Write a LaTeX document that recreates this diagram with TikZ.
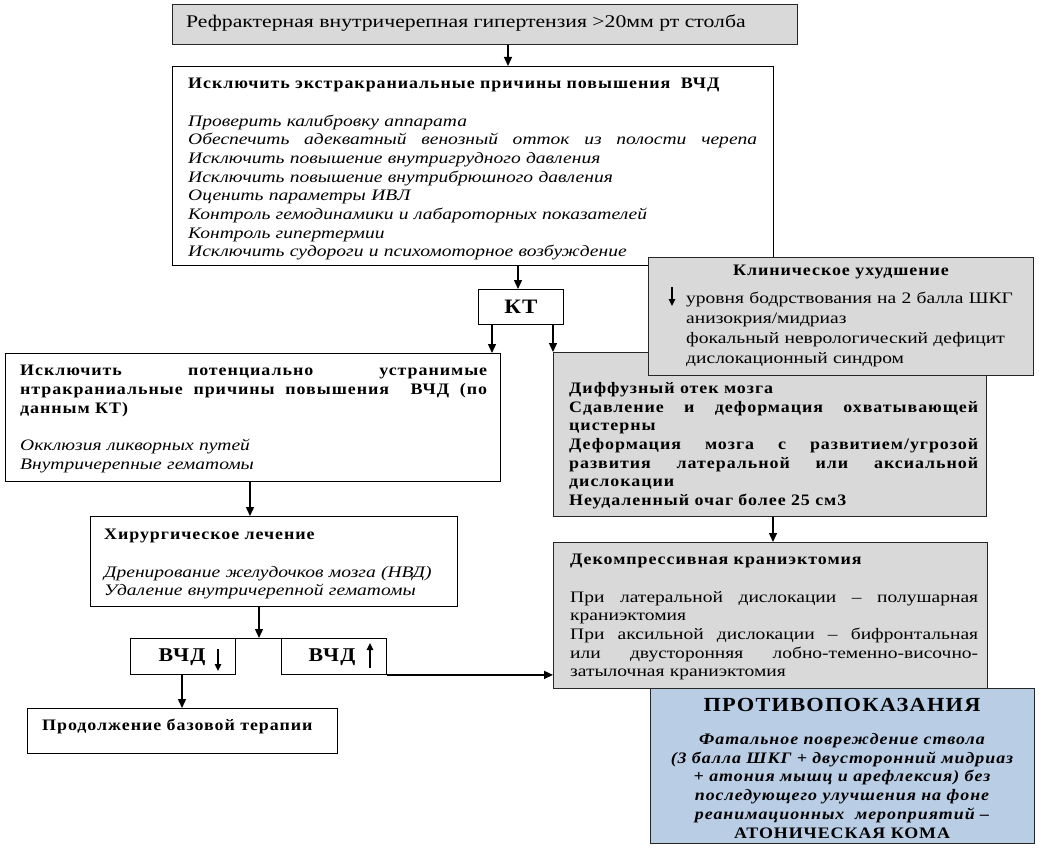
\documentclass[tikz,border=0pt]{standalone}
\usepackage{fontspec}
\setmainfont{Liberation Serif}[FakeStretch=1.22]
\newfontfamily\bsp[FakeStretch=1.12,LetterSpace=6]{Liberation Serif}
\usetikzlibrary{arrows.meta,calc}
\definecolor{boxgray}{HTML}{D9D9D9}
\definecolor{boxblue}{HTML}{B9CDE5}
\newcommand\fs{\fontsize{16}{18.7}\selectfont}
\newcommand\jl[2]{\leavevmode\hbox to #1{\spaceskip=0pt\xspaceskip=0pt\relax #2}\\}
\tikzset{
  box/.style={draw=black, line width=0.9pt, anchor=north west, inner sep=0pt, fill=white},
  gbox/.style={box, draw=black!85, fill=boxgray},
  bbox/.style={box, draw=black!85, fill=boxblue},
  txt/.style={anchor=north west, inner sep=0pt, align=left, font=\fs},
  conn/.style={line width=1.4pt, -{Triangle[length=9pt,width=8pt]}},
  glyph/.style={line width=1.3pt, -{Triangle[length=7pt,width=6.5pt]}},
}
\begin{document}
\begin{tikzpicture}[x=1pt,y=-1pt]
\useasboundingbox (0,0) rectangle (1039,848);
\fill[white] (0,0) rectangle (1039,848);

% top box
\node[gbox, minimum width=625pt, minimum height=40pt] (b1) at (172,4) {};
\node[txt, anchor=west, font=\fontsize{17.8}{20}\selectfont] (b1t) at (186,23)
  {Рефрактерная внутричерепная гипертензия >20мм рт столба};

% exclude extracranial
\node[box, minimum width=601pt, minimum height=199pt] (b2) at (172,66) {};
\node[txt, text width=569pt] (b2t) at (188,78) {%
  {\bsp\bfseries Исключить экстракраниальные причины повышения\ \ ВЧД}\\
  \mbox{}\\
  \itshape Проверить калибровку аппарата\\
  \jl{569pt}{Обеспечить адекватный венозный отток из полости черепа}
  Исключить повышение внутригрудного давления\\
  Исключить повышение внутрибрюшного давления\\
  Оценить параметры ИВЛ\\
  Контроль гемодинамики и лабароторных показателей\\
  Контроль гипертермии\\
  Исключить судороги и психомоторное возбуждение};

% KT
\node[box, minimum width=85pt, minimum height=35pt,
      font=\bsp\bfseries\fontsize{20.5}{22}\selectfont] (kt) at (478,289) {КТ};

% left box
\node[box, minimum width=495pt, minimum height=128pt] (lb) at (5,353) {};
\node[txt, text width=467pt] (lbt) at (20,365) {%
  \bsp\bfseries
  \jl{467pt}{Исключить потенциально устранимые}
  \jl{467pt}{нтракраниальные причины повышения\ \ ВЧД (по}
  данным КТ)\\
  \mbox{}\\
  \normalfont\itshape Окклюзия ликворных путей\\
  Внутричерепные гематомы};

% diffuse
\node[gbox, minimum width=433pt, minimum height=164pt] (db) at (553,352) {};
\node[txt, text width=409pt] (dbt) at (569,382) {%
  \bsp\bfseries
  Диффузный отек мозга\\
  \jl{409pt}{Сдавление и деформация охватывающей}
  цистерны\\
  \jl{409pt}{Деформация мозга с развитием/угрозой}
  \jl{409pt}{развития латеральной или аксиальной}
  дислокации\\
  Неудаленный очаг более 25 см3};

% clinical worsening
\node[gbox, minimum width=385pt, minimum height=118pt] (cl) at (648,257) {};
\node[txt, anchor=center, font=\bsp\bfseries\fs] (clt) at (841,272) {Клиническое ухудшение};
\node[txt, text width=340pt, font=\fontsize{16}{20}\selectfont] (cll) at (686,292) {%
  уровня бодрствования на 2 балла ШКГ\\
  анизокрия/мидриаз\\
  фокальный неврологический дефицит\\
  дислокационный синдром};
\draw[glyph] (672,287) -- (672,306);

% surgical
\node[box, minimum width=367pt, minimum height=90pt] (sb) at (90,516) {};
\node[txt, text width=345pt] (sbt) at (104,529) {%
  {\bsp\bfseries Хирургическое лечение}\\
  \mbox{}\\
  \itshape Дренирование желудочков мозга (НВД)\\
  Удаление внутричерепной гематомы};

% decompressive
\node[gbox, minimum width=434pt, minimum height=146pt] (dc) at (553,542) {};
\node[txt, text width=408pt] (dct) at (570,554) {%
  {\bsp\bfseries Декомпрессивная краниэктомия}\\
  \mbox{}\\
  \jl{408pt}{При латеральной дислокации – полушарная}
  краниэктомия\\
  \jl{408pt}{При аксильной дислокации – бифронтальная}
  \jl{408pt}{или двусторонняя лобно-теменно-височно-}
  затылочная краниэктомия};

% ICP boxes
\node[box, minimum width=105pt, minimum height=36pt] (vd) at (130,638) {};
\node[txt, anchor=center, font=\bsp\bfseries\fontsize{19.5}{20}\selectfont] (vdt) at (182,657) {ВЧД};
\draw[glyph] (218,649) -- (218,671);
\node[box, minimum width=105pt, minimum height=36pt] (vu) at (281,638) {};
\node[txt, anchor=center, font=\bsp\bfseries\fontsize{19.5}{20}\selectfont] (vut) at (332,657) {ВЧД};
\draw[glyph] (370,668) -- (370,643);

% continue base therapy
\node[box, minimum width=310pt, minimum height=45pt] (pb) at (27,708) {};
\node[txt, anchor=west, font=\bsp\bfseries\fs] (pbt) at (42,726) {Продолжение базовой терапии};

% contraindications
\node[bbox, minimum width=384pt, minimum height=155pt] (cb) at (650,688) {};
\node[txt, anchor=center, font=\bsp\bfseries\fontsize{20}{22}\selectfont] (cbt) at (842,705) {ПРОТИВОПОКАЗАНИЯ};
\node[txt, anchor=north, align=center, text width=380pt, font=\bsp\bfseries\itshape\fontsize{16}{18.8}\selectfont] (cbl) at (842,733) {%
  Фатальное повреждение ствола\\
  (3 балла ШКГ + двусторонний мидриаз\\
  + атония мышц и арефлексия) без\\
  последующего улучшения на фоне\\
  реанимационных\ \ мероприятий –\\
  \upshape АТОНИЧЕСКАЯ КОМА};

% connectors
\coordinate (c1) at ([xshift=336pt]b1.south west);
\coordinate (c2) at ([xshift=346pt]b2.south west);
\coordinate (c3) at ([xshift=14pt]kt.south west);
\coordinate (c4) at ([xshift=75pt]kt.south west);
\coordinate (c5) at ([xshift=245pt]lb.south west);
\coordinate (c6) at ([xshift=220pt]db.south west);
\coordinate (c7) at ([xshift=169pt]sb.south west);
\coordinate (c8) at ([xshift=52pt]vd.south west);
\draw[conn] (c1) -- (c1 |- b2.north);
\draw[conn] (c2) -- (c2 |- kt.north);
\draw[conn] (c3) -- (c3 |- lb.north);
\draw[conn] (c4) -- (c4 |- db.north);
\draw[conn] (c5) -- (c5 |- sb.north);
\draw[conn] (c6) -- (c6 |- dc.north);
\draw[line width=0.9pt] (vd.north east) -- (vu.north west);
\draw[conn] (c7) -- (c7 |- vd.north);
\draw[conn] (c8) -- (c8 |- pb.north);
\draw[conn] (vu.south east) -- (vu.south east -| dc.west);
\end{tikzpicture}
\end{document}
